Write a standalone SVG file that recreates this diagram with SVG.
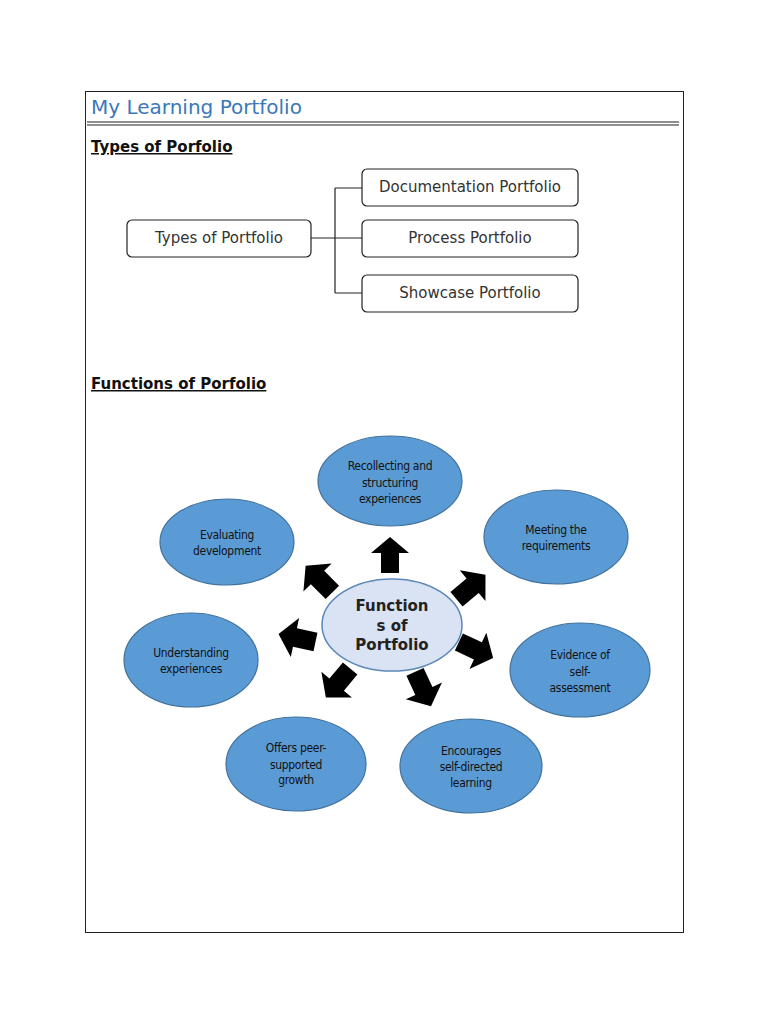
<svg xmlns="http://www.w3.org/2000/svg" width="768" height="1024" viewBox="0 0 768 1024">
<defs>
<style>
.page{fill:#fff;stroke:#222;stroke-width:1}
.title{font-family:"DejaVu Sans",sans-serif;font-size:20px;fill:#3a78b8}
.head{font-family:"DejaVu Sans",sans-serif;font-size:15px;font-weight:bold;fill:#111;text-decoration:underline}
.box{fill:#fff;stroke:#222;stroke-width:1.2}
.btxt{font-family:"DejaVu Sans",sans-serif;font-size:15px;fill:#333;text-anchor:middle}
.conn{fill:none;stroke:#222;stroke-width:1.2}
.ell{fill:#5b9bd5;stroke:#41719c;stroke-width:1.2}
.etxt{font-family:"Liberation Sans Narrow","DejaVu Sans Condensed","Liberation Sans",sans-serif;font-size:12px;fill:#111;text-anchor:middle;letter-spacing:-0.3px}
.center{fill:#dae3f3;stroke:#5b87b8;stroke-width:1.5}
.ctxt{font-family:"DejaVu Sans",sans-serif;font-size:15px;font-weight:bold;fill:#222;text-anchor:middle}
.arr{fill:#000}
</style>
<path id="arrow" d="M0,-18 L19,-2 L9,-2 L9,18 L-9,18 L-9,-2 L-19,-2 Z"/>
</defs>
<rect width="768" height="1024" fill="#fff"/>
<rect class="page" x="85.5" y="91.5" width="598" height="841"/>
<text class="title" x="91" y="114">My Learning Portfolio</text>
<line x1="87" y1="122" x2="679" y2="122" stroke="#222" stroke-width="1.2"/>
<line x1="87" y1="125" x2="679" y2="125" stroke="#222" stroke-width="1.2"/>
<text class="head" x="91" y="152">Types of Porfolio</text>
<text class="head" x="91" y="389">Functions of Porfolio</text>

<g id="connectors">
<path class="conn" d="M311,238 H362 M335,188 V293 M335,188 H362 M335,293 H362"/>
<g class="arr">
<use href="#arrow" transform="translate(390,555)"/>
<use href="#arrow" transform="translate(319,579) rotate(-45) scale(1.05)"/>
<use href="#arrow" transform="translate(471,587) rotate(50) scale(1.05)"/>
<use href="#arrow" transform="translate(297,638) rotate(-78) scale(1.05)"/>
<use href="#arrow" transform="translate(476,650) rotate(115) scale(1.05)"/>
<use href="#arrow" transform="translate(338,683) rotate(-140) scale(1.05)"/>
<use href="#arrow" transform="translate(423,689) rotate(155) scale(1.05)"/>
</g>
</g>

<g id="types-root"><rect class="box" x="127" y="220" width="184" height="37" rx="5"/><text class="btxt" x="219" y="243">Types of Portfolio</text></g>
<g id="documentation"><rect class="box" x="362" y="169" width="216" height="37" rx="5"/><text class="btxt" x="470" y="192">Documentation Portfolio</text></g>
<g id="process"><rect class="box" x="362" y="220" width="216" height="37" rx="5"/><text class="btxt" x="470" y="243">Process Portfolio</text></g>
<g id="showcase"><rect class="box" x="362" y="275" width="216" height="37" rx="5"/><text class="btxt" x="470" y="298">Showcase Portfolio</text></g>

<g id="center"><ellipse class="center" cx="392" cy="625" rx="70" ry="46"/>
<text class="ctxt" x="392" y="611">Function</text><text class="ctxt" x="392" y="631">s of</text><text class="ctxt" x="392" y="650">Portfolio</text></g>

<g id="recollecting"><ellipse class="ell" cx="390" cy="481" rx="72" ry="45"/>
<text class="etxt" x="390" y="470">Recollecting and</text><text class="etxt" x="390" y="487">structuring</text><text class="etxt" x="390" y="503">experiences</text></g>
<g id="meeting"><ellipse class="ell" cx="556" cy="537" rx="72" ry="47"/>
<text class="etxt" x="556" y="534">Meeting the</text><text class="etxt" x="556" y="550">requirements</text></g>
<g id="evaluating"><ellipse class="ell" cx="227" cy="542" rx="67" ry="43"/>
<text class="etxt" x="227" y="539">Evaluating</text><text class="etxt" x="227" y="555">development</text></g>
<g id="understanding"><ellipse class="ell" cx="191" cy="660" rx="67" ry="47"/>
<text class="etxt" x="191" y="657">Understanding</text><text class="etxt" x="191" y="673">experiences</text></g>
<g id="evidence"><ellipse class="ell" cx="580" cy="670" rx="70" ry="47"/>
<text class="etxt" x="580" y="659">Evidence of</text><text class="etxt" x="580" y="676">self-</text><text class="etxt" x="580" y="692">assessment</text></g>
<g id="offers"><ellipse class="ell" cx="296" cy="764" rx="70" ry="47"/>
<text class="etxt" x="296" y="752">Offers peer-</text><text class="etxt" x="296" y="769">supported</text><text class="etxt" x="296" y="784">growth</text></g>
<g id="encourages"><ellipse class="ell" cx="471" cy="766" rx="71" ry="47"/>
<text class="etxt" x="471" y="755">Encourages</text><text class="etxt" x="471" y="771">self-directed</text><text class="etxt" x="471" y="787">learning</text></g>
</svg>
